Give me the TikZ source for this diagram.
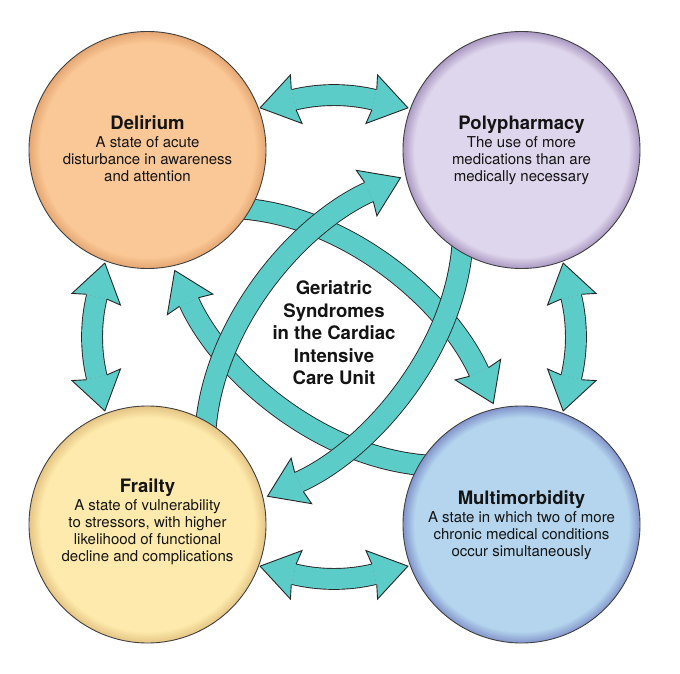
\documentclass[tikz,border=0pt]{standalone}
\usepackage{fontspec}
\setmainfont{TeX Gyre Heros}
\usetikzlibrary{calc}
\definecolor{teal1}{RGB}{92,204,200}
\definecolor{delin}{RGB}{250,200,150}
\definecolor{delout}{RGB}{228,166,114}
\definecolor{polin}{RGB}{222,214,236}
\definecolor{polout}{RGB}{170,152,194}
\definecolor{frin}{RGB}{253,234,172}
\definecolor{frout}{RGB}{228,196,132}
\definecolor{muin}{RGB}{180,213,237}
\definecolor{muout}{RGB}{130,148,204}
\pgfdeclareradialshading{delsh}{\pgfpoint{0bp}{0bp}}{color(0bp)=(delin); color(22.6bp)=(delin); color(25bp)=(delout); color(50bp)=(delout)}
\pgfdeclareradialshading{polsh}{\pgfpoint{0bp}{0bp}}{color(0bp)=(polin); color(22.6bp)=(polin); color(25bp)=(polout); color(50bp)=(polout)}
\pgfdeclareradialshading{frash}{\pgfpoint{0bp}{0bp}}{color(0bp)=(frin); color(22.6bp)=(frin); color(25bp)=(frout); color(50bp)=(frout)}
\pgfdeclareradialshading{mulsh}{\pgfpoint{0bp}{0bp}}{color(0bp)=(muin); color(22.6bp)=(muin); color(25bp)=(muout); color(50bp)=(muout)}
\newcommand{\blockhead}[2]{%
  \filldraw[headsty] ($(#1)!10.45pt!90:(#2)$) -- ($(#1)!25.1pt!84:(#2)$) -- ($(#1)!-34.6pt!(#2)$) -- ($(#1)!25.1pt!-84:(#2)$) -- ($(#1)!10.45pt!-90:(#2)$);}
\newcommand{\titlef}{\fontsize{18.5}{20}\selectfont\bfseries}
\begin{document}
\begin{tikzpicture}[x=1pt,y=-1pt,
  band/.style={draw=black!85, line width=0.9pt, double=teal1, double distance=20pt},
  headsty/.style={fill=teal1, draw=black!85, line width=0.9pt, line join=miter},
  ball/.style={circle, minimum size=237pt, inner sep=0pt, draw=black!75, line width=0.9pt, shade},
  desc/.style={align=center, inner sep=0pt, text=black!92, font=\fontsize{15}{17}\selectfont}]
\useasboundingbox (0,0) rectangle (680,674);
\fill[white] (0,0) rectangle (680,674);
% curved arrows
\foreach \r in {90,270,0,180}{
  \begin{scope}[shift={(334,337)}, rotate=\r]
    \coordinate (cS\r) at (-129,103);
    \coordinate (cA\r) at (-126,-8);
    \coordinate (cB\r) at (-38,-112);
    \coordinate (cE\r) at (35,-145);
    \draw[band] (cS\r) .. controls (cA\r) and (cB\r) .. (cE\r);
    \blockhead{cE\r}{cB\r}
  \end{scope}
}
% double arrows
\foreach \r in {0,90,180,270}{
  \begin{scope}[shift={(334,337)}, rotate=\r]
    \coordinate (dE\r) at (-40.3,-237.2);
    \coordinate (dA\r) at (-14,-243.5);
    \coordinate (dB\r) at (14,-243.5);
    \coordinate (dF\r) at (40.3,-237.2);
    \draw[band] (dE\r) .. controls (dA\r) and (dB\r) .. (dF\r);
    \blockhead{dE\r}{dA\r}
    \blockhead{dF\r}{dB\r}
  \end{scope}
}
% circles
\node[ball, shading=delsh] (del) at (147.5,150) {};
\node[ball, shading=polsh] (pol) at (521.5,150) {};
\node[ball, shading=frash] (fra) at (147.5,524.5) {};
\node[ball, shading=mulsh] (mul) at (521.5,524.5) {};
% texts
\node[desc] (delt) at (147.5,149) {{\titlef Delirium}\\[1pt]A state of acute\\disturbance in awareness\\and attention};
\node[desc] (polt) at (521.5,150) {{\titlef Polypharmacy}\\[1pt]The use of more\\medications than are\\medically necessary};
\node[desc] (frat) at (147.5,521.5) {{\titlef Frailty}\\[1pt]A state of vulnerability\\to stressors, with higher\\likelihood of functional\\decline and complications};
\node[desc] (mult) at (521.5,525) {{\titlef Multimorbidity}\\[1pt]A state in which two of more\\chronic medical conditions\\occur simultaneously};
\node[align=center, inner sep=0pt, text=black!92, font=\fontsize{18.6}{22.5}\selectfont\bfseries] (ctr) at (334,333) {Geriatric\\Syndromes\\in the Cardiac\\Intensive\\Care Unit};
\end{tikzpicture}
\end{document}
